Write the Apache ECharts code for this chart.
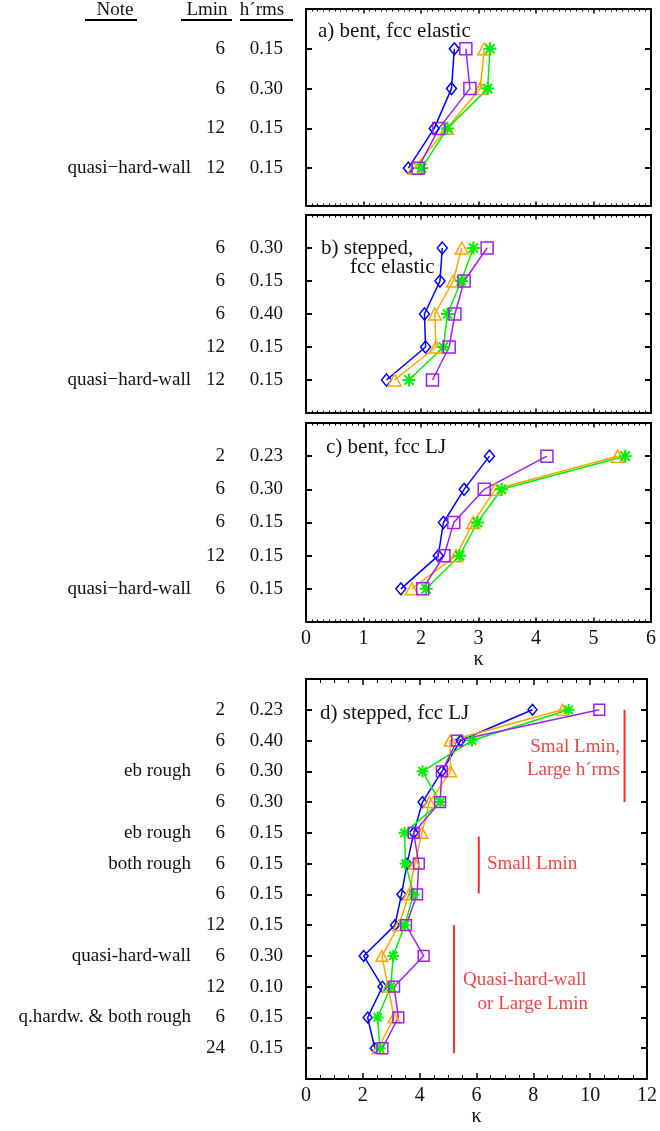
<!DOCTYPE html>
<html>
<head>
<meta charset="utf-8">
<script src="https://cdn.jsdelivr.net/npm/echarts@6/dist/echarts.min.js"></script>
<style>
  html, body { margin: 0; padding: 0; background: #fff; }
  #chart { width: 660px; height: 1131px; }
</style>
</head>
<body>
<div id="chart"></div>
<script>
// ---- a) bent, fcc elastic ----
const notesA = ['', '', '', 'quasi−hard-wall'];
const lminA  = ['6', '6', '12', '12'];
const hrmsA  = ['0.15', '0.30', '0.15', '0.15'];
const blueA   = [2.58, 2.53, 2.23, 1.78];
const orangeA = [3.10, 3.03, 2.45, 1.88];
const greenA  = [3.20, 3.16, 2.46, 2.01];
const purpleA = [2.78, 2.85, 2.31, 1.95];

// ---- b) stepped, fcc elastic ----
const notesB = ['', '', '', '', 'quasi−hard-wall'];
const lminB  = ['6', '6', '6', '12', '12'];
const hrmsB  = ['0.30', '0.15', '0.40', '0.15', '0.15'];
const blueB   = [2.37, 2.33, 2.06, 2.08, 1.40];
const orangeB = [2.71, 2.56, 2.24, 2.26, 1.54];
const greenB  = [2.91, 2.70, 2.46, 2.39, 1.79];
const purpleB = [3.15, 2.75, 2.59, 2.49, 2.20];

// ---- c) bent, fcc LJ ----
const notesC = ['', '', '', '', 'quasi−hard-wall'];
const lminC  = ['2', '6', '6', '12', '6'];
const hrmsC  = ['0.23', '0.30', '0.15', '0.15', '0.15'];
const blueC   = [3.19, 2.75, 2.39, 2.30, 1.65];
const orangeC = [5.42, 3.29, 2.91, 2.61, 1.84];
const greenC  = [5.55, 3.40, 2.98, 2.67, 2.09];
const purpleC = [4.19, 3.10, 2.57, 2.40, 2.03];

// ---- d) stepped, fcc LJ ----
const notesD = ['', '', 'eb rough', '', 'eb rough', 'both rough', '', '',
                'quasi-hard-wall', '', 'q.hardw. & both rough', ''];
const lminD  = ['2', '6', '6', '6', '6', '6', '6', '12', '6', '12', '6', '24'];
const hrmsD  = ['0.23', '0.40', '0.30', '0.30', '0.15', '0.15', '0.15', '0.15',
                '0.30', '0.10', '0.15', '0.15'];
const blueD   = [7.97, 5.44, 4.78, 4.10, 3.79, 3.56, 3.36, 3.13, 2.03, 2.69, 2.17, 2.42];
const orangeD = [9.03, 5.07, 5.09, 4.34, 4.08, 3.83, 3.62, 3.27, 2.67, 2.89, 3.10, 2.54];
const greenD  = [9.24, 5.84, 4.10, 4.72, 3.47, 3.50, 3.79, 3.47, 3.07, 2.98, 2.52, 2.60];
const purpleD = [10.32, 5.32, 4.78, 4.72, 3.79, 3.97, 3.91, 3.52, 4.14, 3.10, 3.25, 2.69];

// Group brackets in panel d: kappa position, first row, last row
const bracketX    = [11.21, 6.08, 5.21];
const bracketFrom = [1, 5.12, 8.0];
const bracketTo   = [4, 6.97, 12.16];

const SERIF = '"Liberation Serif", "DejaVu Serif", serif';
const COLORS = { blue: '#0000ff', orange: '#ffa500', green: '#00ee00', purple: '#a020f0' };
const ASTERISK = 'path://M0,-1L0,1M-1,0L1,0M-0.71,-0.71L0.71,0.71M-0.71,0.71L0.71,-0.71';

const panels = [
  { top: 9,   height: 197, rowMax: 4.95, xMax: 6,  step: 1, minor: 10, labels: false,
    notes: notesA, lmin: lminA, hrms: hrmsA,
    data: { blue: blueA, orange: orangeA, green: greenA, purple: purpleA }, sym: 1 },
  { top: 215, height: 198, rowMax: 6, xMax: 6,  step: 1, minor: 10, labels: false,
    notes: notesB, lmin: lminB, hrms: hrmsB,
    data: { blue: blueB, orange: orangeB, green: greenB, purple: purpleB }, sym: 1 },
  { top: 423, height: 199, rowMax: 6, xMax: 6,  step: 1, minor: 10, labels: true,
    notes: notesC, lmin: lminC, hrms: hrmsC,
    data: { blue: blueC, orange: orangeC, green: greenC, purple: purpleC }, sym: 1 },
  { top: 679, height: 400, rowMax: 13, xMax: 12, step: 2, minor: 4, labels: true,
    notes: notesD, lmin: lminD, hrms: hrmsD,
    data: { blue: blueD, orange: orangeD, green: greenD, purple: purpleD }, sym: 0.9 }
];

const grid = [], xAxis = [], yAxis = [], series = [];
const AXIS_LINE = { show: true, onZero: false, lineStyle: { color: '#000', width: 2 } };

panels.forEach((p, i) => {
  grid.push({ left: 306, right: 9, top: p.top, height: p.height });
  const big = p.step === 2;
  const xBase = {
    gridIndex: i, type: 'value', min: 0, max: p.xMax, interval: p.step,
    axisLine: AXIS_LINE, splitLine: { show: false },
    axisTick: { show: true, inside: true, length: big ? 6 : 4.5, lineStyle: { color: '#000', width: 1.5 } },
    minorTick: { show: true, splitNumber: p.minor, length: big ? 4 : 2.5, lineStyle: { color: '#000', width: 1 } }
  };
  xAxis.push(Object.assign({}, xBase, {
    position: 'bottom',
    axisLabel: { show: p.labels, fontFamily: SERIF, fontSize: 20, color: '#111', margin: 7 },
    name: p.labels ? 'κ' : '', nameLocation: 'middle', nameGap: 28,
    nameTextStyle: { fontFamily: SERIF, fontSize: 20, color: '#111' }
  }));
  xAxis.push(Object.assign({}, xBase, { position: 'top', axisLabel: { show: false } }));

  const yBase = {
    gridIndex: i, type: 'value', min: 0, max: p.rowMax, interval: 1, inverse: true,
    splitLine: { show: false }
  };
  const yMain = yAxis.length;
  yAxis.push(Object.assign({}, yBase, {
    position: 'left', axisLine: AXIS_LINE,
    axisTick: { show: true, inside: true, length: 6, lineStyle: { color: '#000', width: 2 } },
    axisLabel: { show: false }
  }));
  yAxis.push(Object.assign({}, yBase, {
    position: 'right', axisLine: AXIS_LINE,
    axisTick: { show: true, inside: true, length: 6, lineStyle: { color: '#000', width: 2 } },
    axisLabel: { show: false }
  }));
  // Row description columns: Note, Lmin, h'rms
  [[p.notes, 115], [p.lmin, 81], [p.hrms, 23]].forEach(([arr, off]) => {
    yAxis.push(Object.assign({}, yBase, {
      position: 'left', offset: off,
      axisLine: { show: false }, axisTick: { show: false },
      axisLabel: {
        show: true, margin: 0, fontFamily: SERIF, fontSize: 19, color: '#111',
        showMinLabel: true, showMaxLabel: true,
        formatter: v => (Number.isInteger(v) && v >= 1 && v <= arr.length) ? arr[v - 1] : ''
      }
    }));
  });

  const s = p.sym;
  const defs = [
    ['blue',   'diamond',  [10 * s, 12 * s]],
    ['orange', 'triangle', [13 * s, 12 * s]],
    ['green',  ASTERISK,   [13 * s, 13 * s]],
    ['purple', 'rect',     [12 * s, 12 * s]]
  ];
  defs.forEach(([key, symbol, size]) => {
    const c = COLORS[key];
    series.push({
      type: 'line', xAxisIndex: i * 2, yAxisIndex: yMain,
      data: p.data[key].map((k, r) => [k, r + 1]),
      symbol, symbolSize: size, showAllSymbol: true,
      lineStyle: { color: c, width: 1.5 },
      itemStyle: { color: 'rgba(0,0,0,0)', borderColor: c, borderWidth: key === 'green' ? 2 : 1.5 },
      animation: false, z: 3
    });
  });

  if (i === 3) {
    bracketX.forEach((x, b) => {
      series.push({
        type: 'line', xAxisIndex: i * 2, yAxisIndex: yMain,
        data: [[x, bracketFrom[b]], [x, bracketTo[b]]],
        symbol: 'none', lineStyle: { color: '#ff2a2a', width: 2 }, animation: false
      });
    });
  }
});

const RED_TEXT = '#f04545';
const txt = (x, y, text, opts) => ({
  type: 'text', x, y,
  style: Object.assign({ text, fontFamily: SERIF, fontSize: 19, fill: '#111',
    verticalAlign: 'middle', align: 'left' }, opts || {})
});
const rule = (x1, x2, y) => ({
  type: 'line', shape: { x1, y1: y, x2, y2: y }, style: { stroke: '#000', lineWidth: 2 }
});

const graphic = [
  txt(115, 10, 'Note', { align: 'center' }),
  txt(207, 10, 'Lmin', { align: 'center' }),
  txt(262, 10, 'h´rms', { align: 'center' }),
  rule(85, 137, 20), rule(181, 232, 20), rule(240, 293, 20),
  txt(318, 31, 'a) bent, fcc elastic', { fontSize: 21 }),
  txt(321, 248, 'b) stepped,', { fontSize: 21 }),
  txt(350, 267, 'fcc elastic', { fontSize: 21 }),
  txt(326, 447, 'c) bent, fcc LJ', { fontSize: 21 }),
  txt(320, 713, 'd) stepped, fcc LJ', { fontSize: 21 }),
  txt(620, 747, 'Smal Lmin,', { align: 'right', fill: RED_TEXT }),
  txt(620, 770, 'Large h´rms', { align: 'right', fill: RED_TEXT }),
  txt(487, 864, 'Small Lmin', { fill: RED_TEXT }),
  txt(463, 980, 'Quasi-hard-wall', { fill: RED_TEXT }),
  txt(588, 1004, 'or Large Lmin', { align: 'right', fill: RED_TEXT })
];

const chart = echarts.init(document.getElementById('chart'), null, { renderer: 'canvas' });
chart.setOption({
  backgroundColor: '#fff',
  animation: false,
  grid, xAxis, yAxis, series, graphic
});
</script>
</body>
</html>
